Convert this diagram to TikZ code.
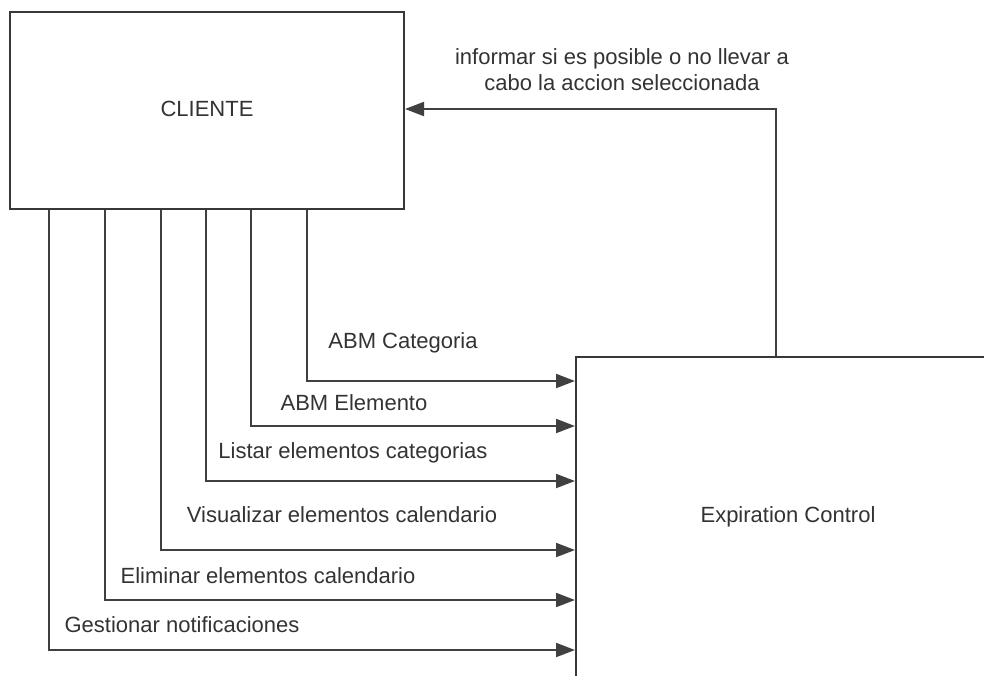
\documentclass[tikz,border=0pt]{standalone}
\usepackage{fontspec}
\setmainfont{Liberation Sans}
\usetikzlibrary{arrows.meta}

\begin{document}
\begin{tikzpicture}[x=1pt, y=-1pt,
  font=\fontsize{22}{26}\selectfont,
  box/.style={rectangle, draw=black!78, line width=2pt, fill=white,
              inner sep=0pt, text=black!80},
  lbl/.style={inner sep=0pt, text=black!80, align=center},
  arr/.style={draw=black!75, line width=2pt,
              -{Triangle[length=19pt, width=14pt]}}]
  \useasboundingbox (0,0) rectangle (984,675);
  \clip (0,0) rectangle (984,675);
  \node[box, minimum width=394pt, minimum height=197pt] (cli) at (207,110.5) {\raisebox{4pt}{CLIENTE}};
  \node[box, minimum width=424pt, minimum height=320pt] (exp) at (788,517) {\raisebox{4pt}{Expiration Control}};
  % requests from the client
  \draw[arr] ([xshift=298pt]cli.south west) |- ([yshift=-25pt]exp.north west);
  \draw[arr] ([xshift=242pt]cli.south west) |- ([yshift=-70pt]exp.north west);
  \draw[arr] ([xshift=197pt]cli.south west) |- ([yshift=-125pt]exp.north west);
  \draw[arr] ([xshift=152pt]cli.south west) |- ([yshift=-194pt]exp.north west);
  \draw[arr] ([xshift=96pt]cli.south west) |- ([yshift=-244pt]exp.north west);
  \draw[arr] ([xshift=40pt]cli.south west) |- ([yshift=-294pt]exp.north west);
  \node[lbl] (cat) at (403,343) {ABM Categoria};
  \node[lbl] (ele) at (354,403) {ABM Elemento};
  \node[lbl] (lis) at (353,453) {Listar elementos categorias};
  \node[lbl] (vis) at (342,515) {Visualizar elementos calendario};
  \node[lbl] (eli) at (268,576) {Eliminar elementos calendario};
  \node[lbl] (ges) at (182,625) {Gestionar notificaciones};
  % answer back to the client
  \draw[arr] ([xshift=201pt]exp.north west) |- ([yshift=-98pt]cli.north east);
  \node[lbl] (inf) at (622,70) {informar si es posible o no llevar a\\cabo la accion seleccionada};
\end{tikzpicture}
\end{document}
